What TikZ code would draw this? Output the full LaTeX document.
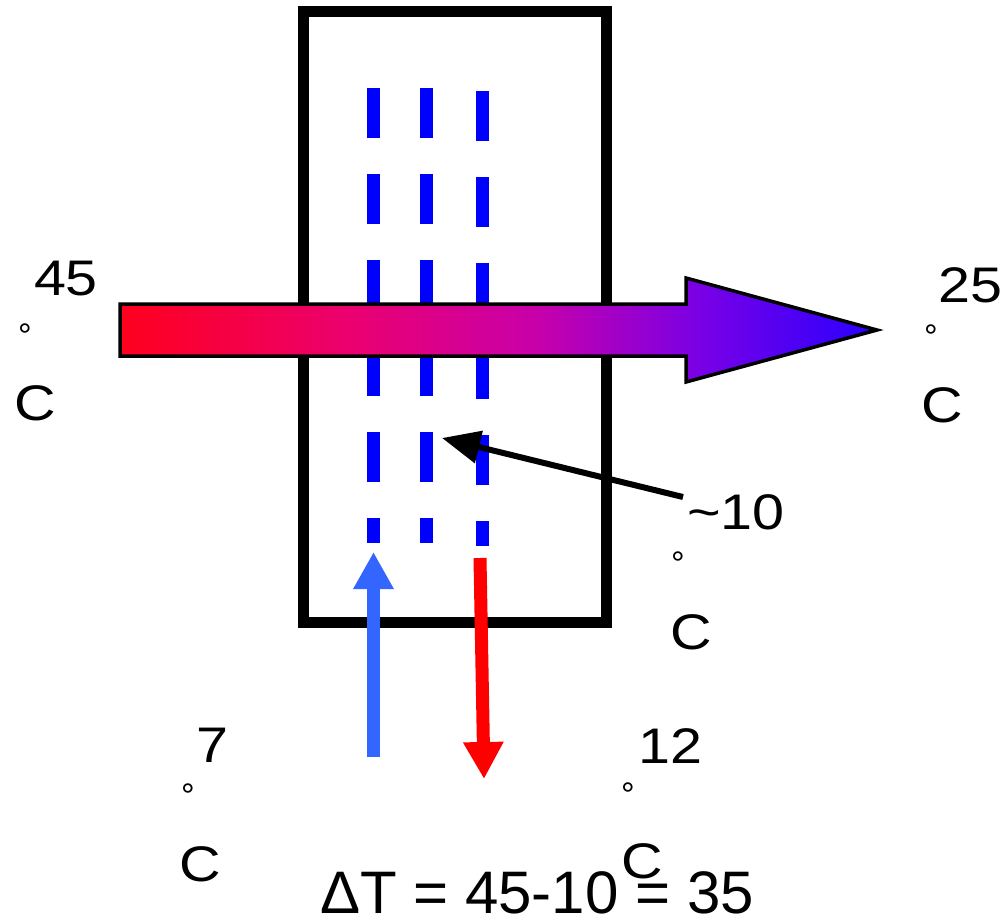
\documentclass[tikz,border=0pt]{standalone}
\usepackage{fontspec}
\setmainfont{Liberation Sans}
\newfontfamily\widefont[FakeStretch=1.15]{Liberation Sans}
\usetikzlibrary{arrows.meta}
\definecolor{dblue}{RGB}{0,0,255}
\definecolor{lblue}{RGB}{51,102,255}
\definecolor{hotred}{RGB}{255,0,30}
\definecolor{hcA}{RGB}{235,0,110}
\definecolor{hcB}{RGB}{200,0,170}
\definecolor{hcC}{RGB}{120,0,230}
\definecolor{coldblue}{RGB}{40,0,255}
\pgfdeclarehorizontalshading{heat}{100bp}{color(0bp)=(hotred); color(25bp)=(hotred); color(40bp)=(hcA); color(52.5bp)=(hcB); color(63.5bp)=(hcC); color(75bp)=(coldblue); color(100bp)=(coldblue)}
\begin{document}
\begin{tikzpicture}[x=1pt,y=-1pt,
  lbl/.style={inner sep=0pt, font=\widefont\fontsize{50}{50}\selectfont},
  bigl/.style={inner sep=0pt, font=\fontsize{60}{60}\selectfont},
  deg/.style={inner sep=0pt, anchor=base, font=\fontsize{34}{34}\selectfont},
  dashline/.style={draw=dblue, line width=13pt, dash pattern=on 50pt off 36pt},
  flowarrow/.style={line width=13pt, -{Triangle[length=37pt,width=38pt]}},
  pointer/.style={line width=6pt, -{Triangle[length=38pt,width=32pt]}}]
\useasboundingbox[fill=white] (0,0) rectangle (1008,923);
% exchanger box
\node[draw=black, line width=11pt, minimum width=303pt, minimum height=611pt, inner sep=0pt] (box) at (455,317) {};
% dashed separators
\coordinate (d1a) at (373.5,88);  \coordinate (d1b) at (373.5,543);
\coordinate (d2a) at (426.5,88);  \coordinate (d2b) at (426.5,543);
\coordinate (d3a) at (482.5,91);  \coordinate (d3b) at (482.5,546);
\draw[dashline] (d1a) -- (d1b);
\draw[dashline] (d2a) -- (d2b);
\draw[dashline] (d3a) -- (d3b);
% big gradient arrow
\draw[shading=heat, draw=black, line width=3.5pt, line join=miter]
  (120,304) -- (686,304) -- (686,278) -- (877,330) -- (686,382) -- (686,356) -- (120,356) -- cycle;
% cold in / warm out
\coordinate (bin) at (373.5,757); \coordinate (bout) at (373.5,552);
\draw[flowarrow, lblue] (bin) -- (bout);
\coordinate (rin) at (480,558); \coordinate (rout) at (484,779);
\draw[flowarrow, red] (rin) -- (rout);
% pointer
\coordinate (ptail) at (683,497); \coordinate (ptip) at (442,438);
\draw[pointer] (ptail) -- (ptip);
% labels
\node[lbl] (t45) at (66,279) {45};
\node[deg] (g45) at (25,347) {°};
\node[lbl] (c45) at (35,403) {C};
\node[lbl] (t25) at (970,285) {25};
\node[deg] (g25) at (931,348) {°};
\node[lbl] (c25) at (942,405) {C};
\node[lbl] (t10) at (736,512) {\textasciitilde 10};
\node[deg] (g10) at (678,575) {°};
\node[lbl] (c10) at (691,632) {C};
\node[lbl] (t7) at (212,745) {7};
\node[deg] (g7) at (188,807) {°};
\node[lbl] (c7) at (200,864) {C};
\node[lbl] (t12) at (670,746) {12};
\node[deg] (g12) at (628,806) {°};
\node[lbl] (c12) at (642,861) {C};
\node[bigl] (dt) at (537,893) {ΔT = 45-10 = 35};
\end{tikzpicture}
\end{document}
